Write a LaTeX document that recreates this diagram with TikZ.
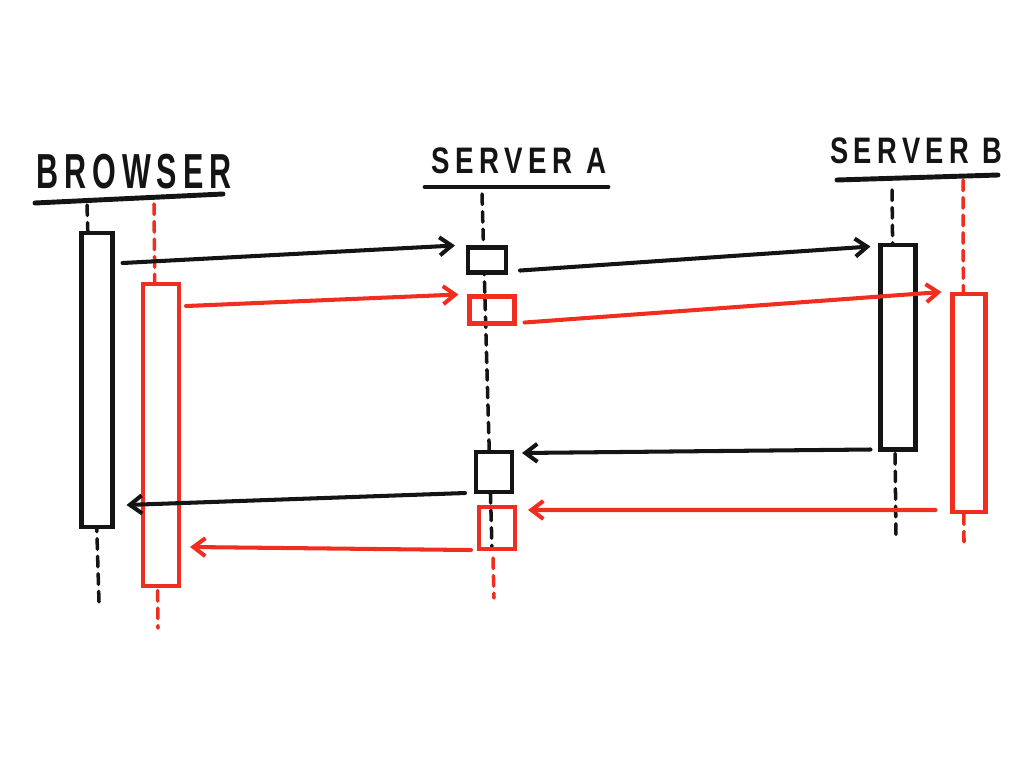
\documentclass[tikz,border=0pt]{standalone}
\usepackage{fontspec}
\usepackage{tikz}
\usetikzlibrary{arrows.meta}
\usepackage{xcolor}
\newfontfamily\handfont[LetterSpace=20]{Liberation Sans}
\definecolor{markerred}{RGB}{240,45,30}
\definecolor{markerblack}{RGB}{20,20,20}

\begin{document}
\begin{tikzpicture}[
  x=0.02cm,y=-0.02cm,
  >={Straight Barb[length=2.4mm,width=3.6mm]},
  head/.style={font=\handfont\bfseries\fontsize{21}{25}\selectfont,inner sep=0pt,text=markerblack},
  rule/.style={markerblack,line width=2.8pt,line cap=round},
  life/.style={line width=2pt,dash pattern=on 6pt off 4pt,line cap=round},
  actblack/.style={draw=markerblack,line width=2.3pt,fill=white,inner sep=0pt},
  actred/.style={draw=markerred,line width=2.3pt,inner sep=0pt},
  msgblack/.style={->,markerblack,line width=2.3pt,line cap=round},
  msgred/.style={->,markerred,line width=2.3pt,line cap=round}
]
\useasboundingbox (0,0) rectangle (1024,768);

% Headers
\node[head,font=\handfont\bfseries\fontsize{28}{32}\selectfont,xscale=.62] (brw) at (134,172) {BROWSER};
\node[head,xscale=.75] (srva) at (519,161) {SERVER A};
\node[head,xscale=.74] (srvb) at (916,151) {SERVER B};
\draw[rule] ([shift={(-99,31)}]brw.center) -- ([shift={(89,22)}]brw.center);
\draw[rule] ([shift={(-94,26)}]srva.center) -- ([shift={(89,26)}]srva.center);
\draw[rule] ([shift={(-79,29)}]srvb.center) -- ([shift={(82,24)}]srvb.center);

% Lifeline ends
\coordinate (bkt) at (87,205);   \coordinate (bkb) at (99,602);
\coordinate (brt) at (154,204);  \coordinate (brb) at (158,628);
\coordinate (akt) at (482,194);  \coordinate (akb) at (492,548);
\coordinate (art) at (493,558);  \coordinate (arb) at (494,598);
\coordinate (bbt) at (892,190);  \coordinate (bbb) at (896,537);
\coordinate (bqt) at (963,180);  \coordinate (bqb) at (964,546);

\draw[life,markerblack] (bkt) -- (bkb);
\draw[life,markerred]   (brt) -- (brb);
\draw[life,markerblack] (akt) -- (akb);
\draw[life,markerred]   (art) -- (arb);
\draw[life,markerblack] (bbt) -- (bbb);
\draw[life,markerred]   (bqt) -- (bqb);

% Activation boxes
\node[actblack,minimum width=0.62cm,minimum height=5.88cm] (bk) at (97,380) {};
\node[actred,fill=white,minimum width=0.72cm,minimum height=6.04cm] (br) at (161,435) {};
\node[actblack,minimum width=0.76cm,minimum height=0.5cm] (a1) at (487,260) {};
\node[actred,minimum width=0.9cm,minimum height=0.54cm] (a2) at (492,310) {};
\node[actblack,minimum width=0.72cm,minimum height=0.8cm] (a3) at (494,472) {};
\node[actred,minimum width=0.72cm,minimum height=0.84cm] (a4) at (497,528) {};
\node[actblack,minimum width=0.7cm,minimum height=4.1cm] (bb) at (898,347) {};
\node[actred,fill=white,minimum width=0.66cm,minimum height=4.36cm] (bq) at (969,403) {};

% Requests
\draw[msgblack] ([shift={(8,32)}]bk.north east) -- ([shift={(-11,0)}]a1.north west);
\draw[msgblack] ([shift={(12,-4)}]a1.south east) -- ([shift={(-8,4)}]bb.north west);
\draw[msgred] ([shift={(5,24)}]br.north east) -- ([shift={(-9,0)}]a2.north west);
\draw[msgred] ([shift={(8,-3)}]a2.south east) -- ([shift={(-9,0)}]bq.north west);

% Responses
\draw[msgblack] ([shift={(-8,-2)}]bb.south west) -- ([shift={(8,3)}]a3.north east);
\draw[msgblack] ([shift={(-9,-1)}]a3.south west) -- ([shift={(12,-24)}]bk.south east);
\draw[msgred] ([shift={(-15,-4)}]bq.south west) -- ([shift={(11,5)}]a4.north east);
\draw[msgred] ([shift={(-6,-1)}]a4.south west) -- ([shift={(9,-41)}]br.south east);
\end{tikzpicture}
\end{document}
